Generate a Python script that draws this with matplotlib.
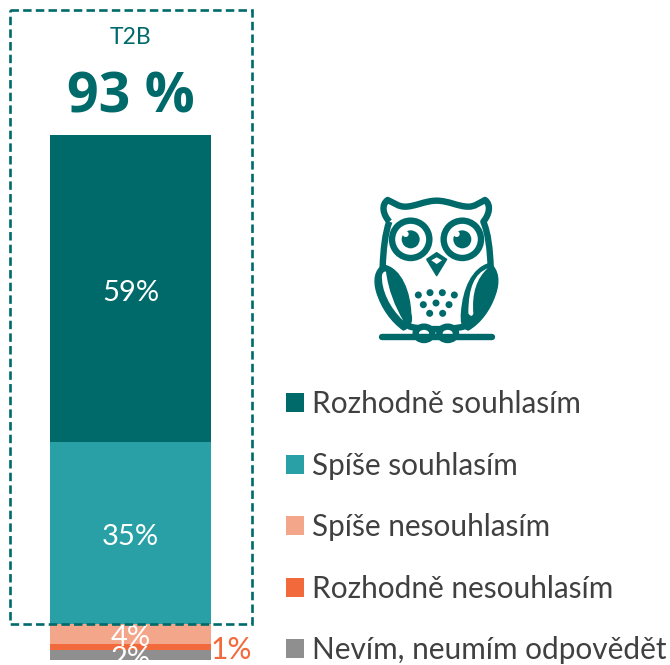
import matplotlib
matplotlib.use("Agg")
import matplotlib.pyplot as plt
from matplotlib.patches import Rectangle, Circle, Ellipse, PathPatch
from matplotlib.path import Path

categories = ["Rozhodně souhlasím", "Spíše souhlasím", "Spíše nesouhlasím", "Rozhodně nesouhlasím", "Nevím, neumím odpovědět"]
values = [59, 35, 4, 1, 2]
colors = ["#006A6B", "#28A0A5", "#F4A68A", "#F26A3C", "#8F8F8F"]
summary_label = "T2B"
summary_value = "93 %"

W, H = 670, 665
TEAL = "#006A6B"
plt.rcParams["font.family"] = ["Lato", "DejaVu Sans"]
fig = plt.figure(figsize=(W / 100, H / 100), dpi=100)

# bar axes: pixel box of the stacked column
bl, br, bt, bb = 50, 211, 135, 660
ax = fig.add_axes([bl / W, 1 - bb / H, (br - bl) / W, (bb - bt) / H])
ax.set_xlim(-0.5, 0.5)
ax.set_ylim(0, sum(values))
ax.axis("off")
handles = []
bottom = sum(values)
for cat, val, col in zip(categories, values, colors):
    bottom -= val
    b = ax.bar(0, val, width=1, bottom=bottom, color=col, label=cat, linewidth=0)
    handles.append(b[0])
    if val == 1:
        ax.annotate(f"{val}%", (0.5, bottom + val / 2), xytext=(0, -2), textcoords="offset points",
                    color="#F26A3C", fontsize=21.5, va="center", ha="left", annotation_clip=False)
    else:
        ax.annotate(f"{val}%", (0, bottom + val / 2), xytext=(0, -3), textcoords="offset points",
                    color="white", fontsize=21, ha="center", va="center", annotation_clip=False)

leg = fig.legend(handles, categories, loc="upper left", bbox_to_anchor=(286 / W, 1 - 390 / H),
                 frameon=False, fontsize=21.4, labelspacing=1.13, handlelength=0.6, handleheight=0.6,
                 handletextpad=0.27, borderpad=0, borderaxespad=0, labelcolor="#404040")

# overlay in pixel coordinates for the frame, heading and owl
top = fig.add_axes([0, 0, 1, 1], zorder=5)
top.set_xlim(0, W)
top.set_ylim(H, 0)
top.axis("off")
top.patch.set_alpha(0)

top.add_patch(Rectangle((10, 10), 242, 614, fill=False, edgecolor=TEAL, linewidth=1.9,
                        linestyle=(0, (3.2, 1.6))))
top.text(130.5, 38, summary_label, color=TEAL, fontsize=16.5, ha="center", va="center")
top.text(130.5, 98, summary_value, color=TEAL, fontsize=40, fontweight="bold", ha="center", va="center",
         family=["Open Sans", "DejaVu Sans"])


def X(z):
    return 340 + z / 3


def Y(z):
    return 180 + z / 3


def P(pts):
    return [(X(a), Y(b)) for a, b in pts]


def curve(start, *segs):
    verts, codes = [start], [Path.MOVETO]
    for s in segs:
        verts += s
        codes += [Path.CURVE4] * 3 if len(s) == 3 else [Path.LINETO]
    return Path(P(verts), codes)


LW = 4.6
# perch
top.plot([X(125), X(455)], [Y(472), Y(472)], color=TEAL, lw=LW, solid_capstyle="round")
# head and body outline
head = curve((148, 125),
             [(130, 105), (122, 75), (143, 60)],
             [(165, 70), (175, 80), (195, 80)],
             [(225, 80), (255, 62), (290, 62)],
             [(325, 62), (355, 80), (385, 80)],
             [(405, 80), (415, 70), (435, 60)],
             [(455, 75), (447, 105), (430, 125)],
             [(445, 160), (450, 210), (452, 260)],
             [(450, 330), (430, 400), (370, 440)],
             [(330, 450), (250, 450), (210, 440)],
             [(150, 400), (130, 330), (128, 260)],
             [(130, 210), (135, 160), (148, 125)])
top.add_patch(PathPatch(head, facecolor="white", edgecolor=TEAL, lw=LW, joinstyle="round"))
# left wing
lw_out = curve((130, 255),
               [(105, 270), (100, 300), (110, 335)],
               [(125, 385), (155, 425), (190, 450)],
               [(205, 445), (220, 430), (212, 400)],
               [(210, 340), (185, 265), (130, 255)])
top.add_patch(PathPatch(lw_out, facecolor=TEAL, edgecolor=TEAL, lw=1))
cres = curve((126, 285),
             [(123, 330), (150, 385), (190, 422)],
             [(165, 380), (145, 330), (138, 275)],
             [(133, 273), (128, 278), (126, 285)])
top.add_patch(PathPatch(cres, facecolor="white", edgecolor="none"))
# right wing
rw_out = curve((450, 250),
               [(475, 270), (480, 305), (465, 345)],
               [(450, 390), (420, 430), (385, 450)],
               [(365, 445), (362, 425), (365, 395)],
               [(370, 330), (395, 265), (450, 250)])
top.add_patch(PathPatch(rw_out, facecolor=TEAL, edgecolor=TEAL, lw=1))
cres2 = curve((443, 265),
              [(405, 280), (385, 320), (385, 400)],
              [(390, 408), (397, 412), (400, 400)],
              [(395, 340), (410, 295), (443, 265)])
top.add_patch(PathPatch(cres2, facecolor="white", edgecolor="none"))
# eyes
for cx, hx in [(212, 197), (367, 350)]:
    top.add_patch(Circle((X(cx), Y(178)), 56 / 3, facecolor="white", edgecolor=TEAL, lw=LW))
    top.add_patch(Circle((X(cx), Y(178)), 27 / 3, facecolor=TEAL, edgecolor="none"))
    top.add_patch(Circle((X(hx), Y(162)), 9 / 3, facecolor="white", edgecolor="none"))
# beak
beak = curve((260, 238), [(290, 218)], [(320, 238)], [(290, 287)], [(260, 238)])
top.add_patch(PathPatch(beak, facecolor=TEAL, edgecolor=TEAL, lw=1, joinstyle="round"))
beak2 = curve((274, 241), [(290, 232)], [(306, 241)], [(290, 252)], [(274, 241)])
top.add_patch(PathPatch(beak2, facecolor="white", edgecolor="none"))
# chest dots
for dx, dy in [(235, 345), (270, 338), (307, 338), (343, 345), (250, 374), (288, 369), (327, 374), (269, 400), (308, 400)]:
    top.add_patch(Circle((X(dx), Y(dy)), 10.5 / 3, facecolor=TEAL, edgecolor="none"))
# feet
for fx in (252, 323):
    top.add_patch(Ellipse((X(fx), Y(460)), 50 / 3, 40 / 3, facecolor="white", edgecolor=TEAL, lw=LW))

fig.savefig("out.png", dpi=100)
